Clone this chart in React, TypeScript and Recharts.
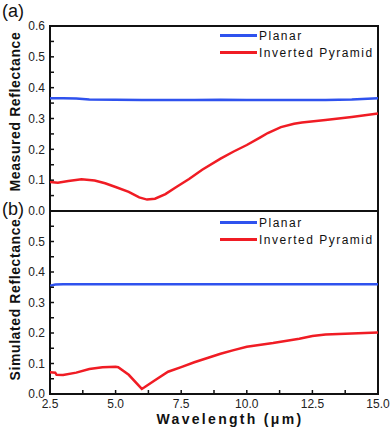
import { LineChart, Line, XAxis, YAxis, ReferenceArea } from 'recharts';

// wavelength (µm) and reflectance
const measuredPlanarWl = [2.5, 3.0, 3.5, 4.0, 5.0, 6.0, 7.0, 8.0, 9.0, 10.0, 11.0, 12.0, 13.0, 14.0, 15.0];
const measuredPlanar = [0.366, 0.366, 0.365, 0.362, 0.361, 0.36, 0.36, 0.36, 0.361, 0.36, 0.36, 0.36, 0.36, 0.362, 0.366];

const measuredPyramidWl = [
  2.5, 2.8, 3.2, 3.7, 4.2, 4.6, 5.0, 5.5, 5.9, 6.2, 6.5, 6.9, 7.3, 7.8, 8.3, 9.0, 9.5, 10.0, 10.5, 10.8,
  11.3, 11.8, 12.1, 13.0, 14.0, 15.0,
];
const measuredPyramid = [
  0.094, 0.092, 0.097, 0.103, 0.099, 0.09, 0.078, 0.062, 0.044, 0.037, 0.04, 0.055, 0.077, 0.104, 0.134,
  0.17, 0.193, 0.214, 0.238, 0.253, 0.272, 0.283, 0.287, 0.295, 0.305, 0.316,
];

const simPlanarWl = [2.5, 2.7, 3.0, 5.0, 7.5, 10.0, 12.5, 15.0];
const simPlanar = [0.355, 0.359, 0.36, 0.36, 0.36, 0.36, 0.36, 0.36];

const simPyramidWl = [
  2.5, 2.7, 2.75, 3.0, 3.5, 4.0, 4.5, 5.0, 5.1, 5.5, 6.0, 6.1, 6.5, 7.0, 7.5, 8.0, 8.5, 9.0, 9.5, 10.0,
  11.0, 12.0, 12.5, 13.0, 14.0, 15.0,
];
const simPyramid = [
  0.071, 0.07, 0.063, 0.062, 0.07, 0.082, 0.088, 0.089, 0.088, 0.063, 0.017, 0.022, 0.045, 0.073, 0.088,
  0.104, 0.118, 0.132, 0.144, 0.155, 0.167, 0.181, 0.19, 0.195, 0.198, 0.202,
];

const xTicks = [2.5, 3.75, 5, 6.25, 7.5, 8.75, 10, 11.25, 12.5, 13.75, 15];
const yTicks = [0, 0.05, 0.1, 0.15, 0.2, 0.25, 0.3, 0.35, 0.4, 0.45, 0.5, 0.55, 0.6];

const BLUE = '#2f52ee';
const RED = '#f01c24';
const INK = '#111';
const FONT = 'Arial, "Liberation Sans", sans-serif';

const zip = (xs: number[], ys: number[]) => xs.map((x, i) => ({ x, y: ys[i] }));

function XTick(props: any) {
  const { x, y, payload } = props;
  const v = payload.value;
  if (Math.abs(v / 2.5 - Math.round(v / 2.5)) > 0.01) return null;
  return (
    <text x={x} y={y} dy="0.71em" textAnchor="middle" fontSize={12} fill="#222" fontFamily={FONT}>
      {v.toFixed(1)}
    </text>
  );
}

function makeYTick(hideTop: boolean) {
  return function YTick(props: any) {
    const { x, y, payload } = props;
    const v = payload.value;
    const tenth = Math.round(v * 10);
    if (Math.abs(v * 10 - tenth) > 0.01) return null;
    if (hideTop && tenth === 6) return null;
    return (
      <text x={x} y={y} dy="0.35em" textAnchor="end" fontSize={12} fill="#222" fontFamily={FONT}>
        {v.toFixed(1)}
      </text>
    );
  };
}

function LegendBox({ x, y }: { x: number; y: number }) {
  const items = [
    { label: 'Planar', color: BLUE },
    { label: 'Inverted Pyramid', color: RED },
  ];
  return (
    <div style={{ position: 'absolute', left: x, top: y }}>
      {items.map((it) => (
        <div key={it.label} style={{ display: 'flex', alignItems: 'center', height: 17 }}>
          <div style={{ width: 37, height: 3, background: it.color, marginRight: 2 }} />
          <span style={{ fontFamily: FONT, fontSize: 12, letterSpacing: 1.5, color: INK }}>{it.label}</span>
        </div>
      ))}
    </div>
  );
}

const tickLine = { stroke: INK, strokeWidth: 1.5 };

export default function App() {
  return (
    <div style={{ position: 'absolute', left: 0, top: 0, width: 392, height: 430, background: '#fff', fontFamily: FONT }}>
      <div style={{ position: 'absolute', left: 2, top: 1, fontSize: 18, fontFamily: FONT, color: INK }}>(a)</div>

      <div style={{ position: 'absolute', left: 0, top: 211 }}>
        <LineChart width={392} height={219} margin={{ top: 0, right: 14, bottom: 0, left: 0 }}>
          <XAxis
            type="number"
            dataKey="x"
            domain={[2.5, 15]}
            ticks={xTicks}
            interval={0}
            allowDataOverflow
            stroke={INK}
            axisLine={false}
            tickLine={tickLine}
            tickSize={-4}
            tickMargin={9}
            tick={<XTick />}
            height={36}
            label={{
              value: 'Wavelength (μm)',
              position: 'insideBottom',
              dx: 16,
              dy: -1,
              style: { fontSize: 14, fontWeight: 'bold', fontFamily: FONT, fill: INK, letterSpacing: 2.3 },
            }}
          />
          <YAxis
            type="number"
            domain={[0, 0.6]}
            ticks={yTicks}
            interval={0}
            width={50}
            stroke={INK}
            axisLine={false}
            tickLine={tickLine}
            tickSize={-4}
            tickMargin={9}
            tick={makeYTick(true)}
            label={{
              value: 'Simulated Reflectance',
              angle: -90,
              position: 'insideLeft',
              dx: 10,
              dy: 78,
              style: { fontSize: 14, fontWeight: 'bold', fontFamily: FONT, fill: INK, letterSpacing: 0.6 },
            }}
          />
          <ReferenceArea x1={2.5} x2={15} y1={0} y2={0.6} fill="none" stroke={INK} strokeWidth={2} ifOverflow="visible" />
          <Line data={zip(simPlanarWl, simPlanar)} dataKey="y" stroke={BLUE} strokeWidth={2.5} dot={false} isAnimationActive={false} />
          <Line data={zip(simPyramidWl, simPyramid)} dataKey="y" stroke={RED} strokeWidth={2.5} dot={false} isAnimationActive={false} />
        </LineChart>
      </div>

      <div style={{ position: 'absolute', left: 0, top: 0 }}>
        <LineChart width={392} height={222} margin={{ top: 26, right: 14, bottom: 10, left: 0 }}>
          <XAxis
            type="number"
            dataKey="x"
            domain={[2.5, 15]}
            ticks={xTicks}
            interval={0}
            allowDataOverflow
            stroke={INK}
            axisLine={false}
            tickLine={tickLine}
            tickSize={-4}
            tick={false}
            height={1}
          />
          <YAxis
            type="number"
            domain={[0, 0.6]}
            ticks={yTicks}
            interval={0}
            width={50}
            stroke={INK}
            axisLine={false}
            tickLine={tickLine}
            tickSize={-4}
            tickMargin={9}
            tick={makeYTick(false)}
            label={{
              value: 'Measured Reflectance',
              angle: -90,
              position: 'insideLeft',
              dx: 10,
              dy: 73,
              style: { fontSize: 14, fontWeight: 'bold', fontFamily: FONT, fill: INK, letterSpacing: 0.6 },
            }}
          />
          <ReferenceArea x1={2.5} x2={15} y1={0} y2={0.6} fill="none" stroke={INK} strokeWidth={2} ifOverflow="visible" />
          <Line data={zip(measuredPlanarWl, measuredPlanar)} dataKey="y" stroke={BLUE} strokeWidth={2.5} dot={false} isAnimationActive={false} />
          <Line data={zip(measuredPyramidWl, measuredPyramid)} dataKey="y" stroke={RED} strokeWidth={2.5} dot={false} isAnimationActive={false} />
        </LineChart>
      </div>

      <div style={{ position: 'absolute', left: 2, top: 199, fontSize: 18, fontFamily: FONT, color: INK }}>(b)</div>
      <LegendBox x={220} y={27} />
      <LegendBox x={220} y={214} />
    </div>
  );
}
